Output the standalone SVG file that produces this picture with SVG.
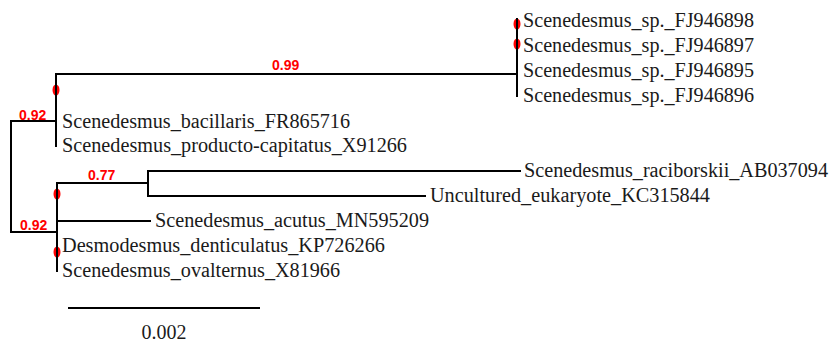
<svg xmlns="http://www.w3.org/2000/svg" width="831" height="345" viewBox="0 0 831 345">
<style>
.br{stroke:#000;stroke-width:2;fill:none;stroke-linecap:square}
.lf{font-family:"Liberation Serif","Times New Roman",serif;font-size:20px;fill:#1a1a1a}
.sup{font-family:"Liberation Sans",Arial,sans-serif;font-size:14px;font-weight:bold;fill:#ff0000}
.dot{fill:#ff0000}
</style>
<rect width="831" height="345" fill="#fff"/>
<g id="connectors">
<path class="br" d="M11,121V232M11,121H56M11,232H57"/>
<path class="br" d="M56,74V146M56,74H517M517,21V96"/>
<path class="br" d="M57,183V271M57,183H148M148,171V196M148,171H520M148,196H425M57,221H150"/>
<path class="br" d="M69,308H259"/>
</g>
<g id="dots">
<ellipse class="dot" cx="517" cy="24" rx="3.5" ry="5.5"/>
<ellipse class="dot" cx="517" cy="44" rx="3.5" ry="5.5"/>
<ellipse class="dot" cx="56" cy="90" rx="3.5" ry="5.5"/>
<ellipse class="dot" cx="57" cy="194" rx="3.5" ry="5.5"/>
<ellipse class="dot" cx="57" cy="252" rx="3.5" ry="5.5"/>
<path class="br" d="M517,19V49M56,84V96M57,188V200M57,246V258" stroke-width="1.5"/>
</g>
<g id="support">
<text class="sup" x="19" y="120">0.92</text>
<text class="sup" x="20" y="230">0.92</text>
<text class="sup" x="88" y="180">0.77</text>
<text class="sup" x="272" y="70">0.99</text>
</g>
<g id="leaf-FJ946898"><text class="lf" x="523" y="27" textLength="231" lengthAdjust="spacingAndGlyphs">Scenedesmus_sp._FJ946898</text></g>
<g id="leaf-FJ946897"><text class="lf" x="523" y="52" textLength="231" lengthAdjust="spacingAndGlyphs">Scenedesmus_sp._FJ946897</text></g>
<g id="leaf-FJ946895"><text class="lf" x="523" y="77" textLength="231" lengthAdjust="spacingAndGlyphs">Scenedesmus_sp._FJ946895</text></g>
<g id="leaf-FJ946896"><text class="lf" x="523" y="102" textLength="231" lengthAdjust="spacingAndGlyphs">Scenedesmus_sp._FJ946896</text></g>
<g id="leaf-FR865716"><text class="lf" x="62" y="128" textLength="288" lengthAdjust="spacingAndGlyphs">Scenedesmus_bacillaris_FR865716</text></g>
<g id="leaf-X91266"><text class="lf" x="62" y="152" textLength="345" lengthAdjust="spacingAndGlyphs">Scenedesmus_producto-capitatus_X91266</text></g>
<g id="leaf-AB037094"><text class="lf" x="524" y="177" textLength="304" lengthAdjust="spacingAndGlyphs">Scenedesmus_raciborskii_AB037094</text></g>
<g id="leaf-KC315844"><text class="lf" x="430" y="202" textLength="280" lengthAdjust="spacingAndGlyphs">Uncultured_eukaryote_KC315844</text></g>
<g id="leaf-MN595209"><text class="lf" x="155" y="227" textLength="274" lengthAdjust="spacingAndGlyphs">Scenedesmus_acutus_MN595209</text></g>
<g id="leaf-KP726266"><text class="lf" x="62" y="252" textLength="323" lengthAdjust="spacingAndGlyphs">Desmodesmus_denticulatus_KP726266</text></g>
<g id="leaf-X81966"><text class="lf" x="62" y="277" textLength="278" lengthAdjust="spacingAndGlyphs">Scenedesmus_ovalternus_X81966</text></g>
<g id="scale"><text class="lf" x="164" y="339" text-anchor="middle">0.002</text></g>
</svg>
